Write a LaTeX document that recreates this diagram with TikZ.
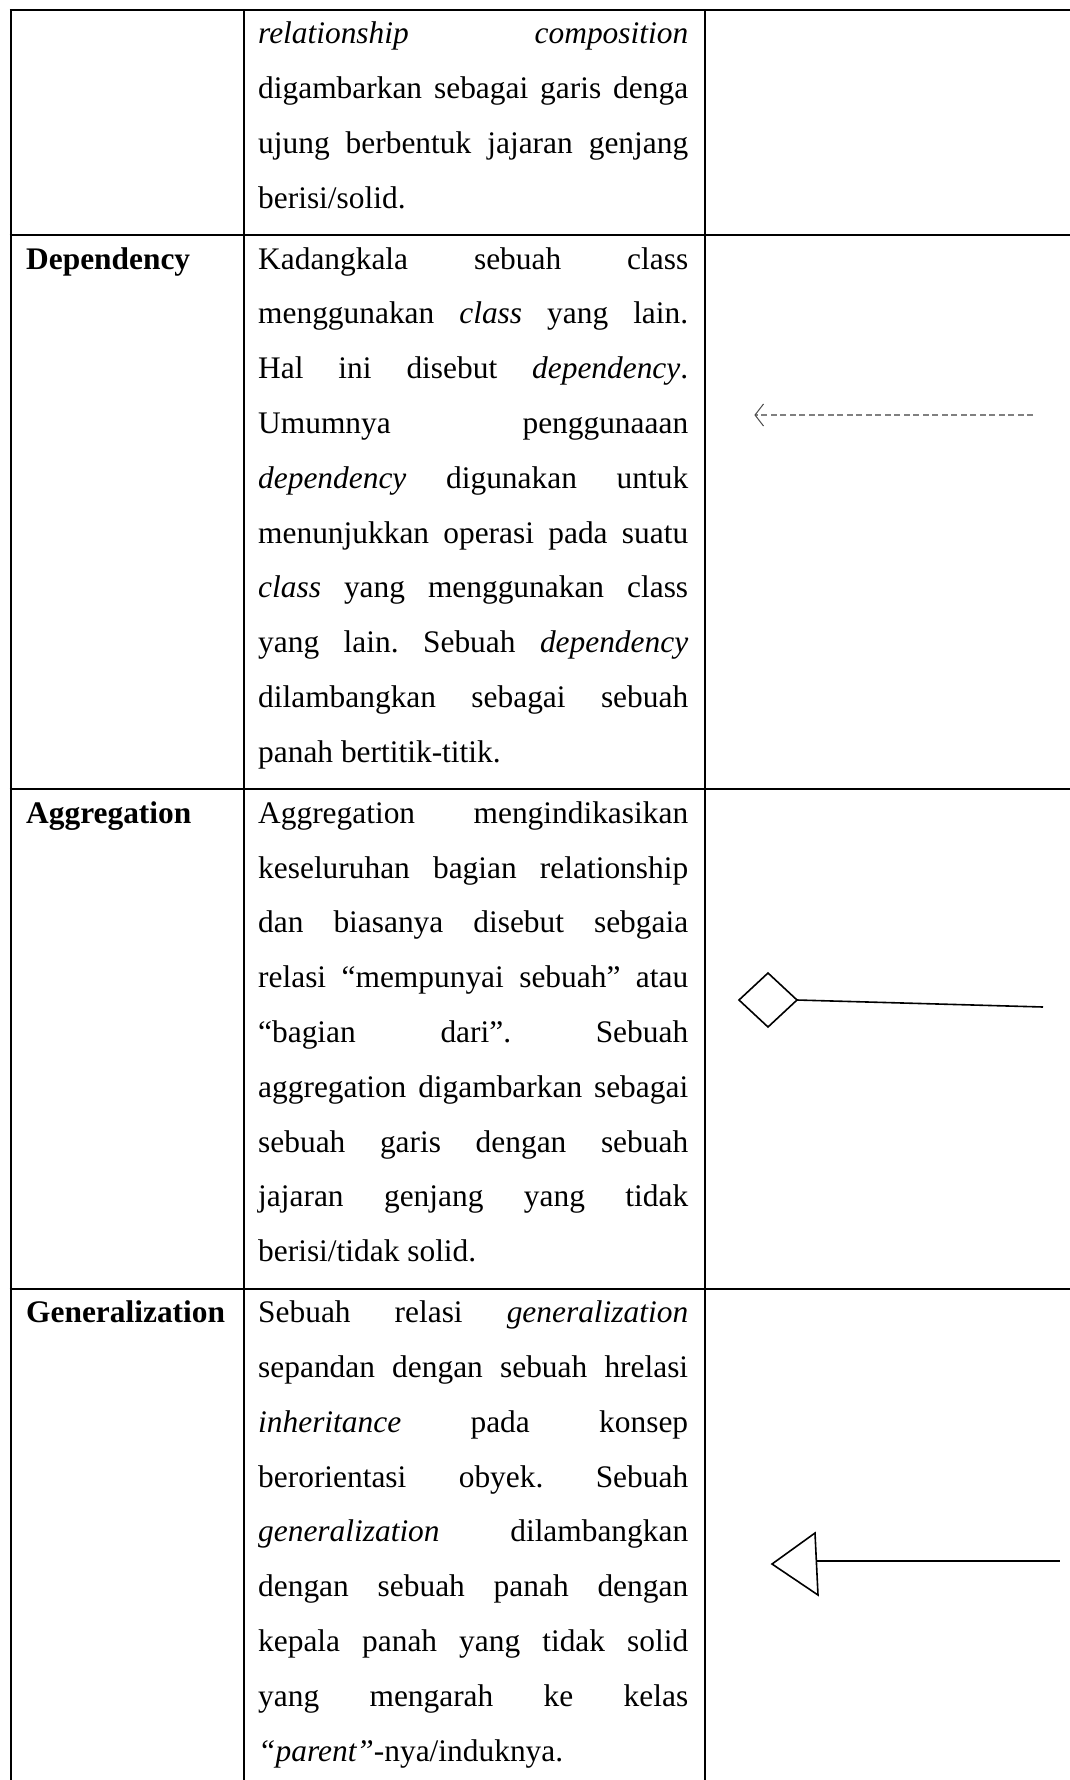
\documentclass[tikz,border=0pt]{standalone}
\usepackage{fontspec}
\setmainfont{Liberation Serif}
\newlength{\tw}\setlength{\tw}{430pt}
\newcommand{\JL}[1]{\makebox[\tw][s]{#1}}
\definecolor{dashgray}{HTML}{808080}
\definecolor{headgray}{HTML}{4A4A4A}
\frenchspacing
\begin{document}
\begin{tikzpicture}[x=1pt,y=-1pt,
  grid/.style={line width=2pt, black},
  txt/.style={anchor=base west, inner sep=0pt, font=\fontsize{31.4pt}{38pt}\selectfont\frenchspacing},
  lbl/.style={anchor=base west, inner sep=0pt, font=\fontsize{31.4pt}{38pt}\selectfont\bfseries},
  depline/.style={draw=dashgray, line width=1.3pt, dash pattern=on 6pt off 3.5pt},
  dephead/.style={draw=headgray, line width=1pt},
  sym/.style={draw=black, line width=1.6pt, line join=miter}
]
\useasboundingbox (0,0) rectangle (1070,1780);
\fill[white] (0,0) rectangle (1070,1780);
\def\p{54.8}
\def\ra{43.6}
\def\rb{269}
\pgfmathsetmacro\rc{\rb+9*\p+27+34}
\pgfmathsetmacro\rd{\rc+8*\p+27+34}
\pgfmathsetmacro\Ra{\ra-34}
\def\Rone{235}
\pgfmathsetmacro\Rb{\rb+9*\p+27}
\pgfmathsetmacro\Rc{\rc+8*\p+27}

% table rules
\draw[grid] (10.5,\Ra) -- (10.5,1780);
\draw[grid] (243.5,\Ra) -- (243.5,1780);
\draw[grid] (705,\Ra) -- (705,1780);
\draw[grid] (9.5,\Ra) -- (1070,\Ra);
\draw[grid] (9.5,\Rone) -- (1070,\Rone);
\draw[grid] (9.5,\Rb) -- (1070,\Rb);
\draw[grid] (9.5,\Rc) -- (1070,\Rc);

% row 1
\node[txt] (a1) at (258,{\ra+0*\p}) {\JL{\textit{relationship} \textit{composition}}};
\node[txt] (a2) at (258,{\ra+1*\p}) {\JL{digambarkan sebagai garis denga}};
\node[txt] (a3) at (258,{\ra+2*\p}) {\JL{ujung berbentuk jajaran genjang}};
\node[txt] (a4) at (258,{\ra+3*\p}) {berisi/solid.};

% row 2
\node[lbl] (depl) at (26,\rb) {Dependency};
\node[txt] (b1) at (258,{\rb+0*\p}) {\JL{Kadangkala sebuah class}};
\node[txt] (b2) at (258,{\rb+1*\p}) {\JL{menggunakan \textit{class} yang lain.}};
\node[txt] (b3) at (258,{\rb+2*\p}) {\JL{Hal ini disebut \textit{dependency}.}};
\node[txt] (b4) at (258,{\rb+3*\p}) {\JL{Umumnya penggunaaan}};
\node[txt] (b5) at (258,{\rb+4*\p}) {\JL{\textit{dependency} digunakan untuk}};
\node[txt] (b6) at (258,{\rb+5*\p}) {\JL{menunjukkan operasi pada suatu}};
\node[txt] (b7) at (258,{\rb+6*\p}) {\JL{\textit{class} yang menggunakan class}};
\node[txt] (b8) at (258,{\rb+7*\p}) {\JL{yang lain. Sebuah \textit{dependency}}};
\node[txt] (b9) at (258,{\rb+8*\p}) {\JL{dilambangkan sebagai sebuah}};
\node[txt] (b10) at (258,{\rb+9*\p}) {panah bertitik-titik.};

% row 3
\node[lbl] (aggl) at (26,\rc) {Aggregation};
\node[txt] (c1) at (258,{\rc+0*\p}) {\JL{Aggregation mengindikasikan}};
\node[txt] (c2) at (258,{\rc+1*\p}) {\JL{keseluruhan bagian relationship}};
\node[txt] (c3) at (258,{\rc+2*\p}) {\JL{dan biasanya disebut sebgaia}};
\node[txt] (c4) at (258,{\rc+3*\p}) {\JL{relasi “mempunyai sebuah” atau}};
\node[txt] (c5) at (258,{\rc+4*\p}) {\JL{“bagian dari”. Sebuah}};
\node[txt] (c6) at (258,{\rc+5*\p}) {\JL{aggregation digambarkan sebagai}};
\node[txt] (c7) at (258,{\rc+6*\p}) {\JL{sebuah garis dengan sebuah}};
\node[txt] (c8) at (258,{\rc+7*\p}) {\JL{jajaran genjang yang tidak}};
\node[txt] (c9) at (258,{\rc+8*\p}) {berisi/tidak solid.};

% row 4
\node[lbl] (genl) at (26,\rd) {Generalization};
\node[txt] (d1) at (258,{\rd+0*\p}) {\JL{Sebuah relasi \textit{generalization}}};
\node[txt] (d2) at (258,{\rd+1*\p}) {\JL{sepandan dengan sebuah hrelasi}};
\node[txt] (d3) at (258,{\rd+2*\p}) {\JL{\textit{inheritance} pada konsep}};
\node[txt] (d4) at (258,{\rd+3*\p}) {\JL{berorientasi obyek. Sebuah}};
\node[txt] (d5) at (258,{\rd+4*\p}) {\JL{\textit{generalization} dilambangkan}};
\node[txt] (d6) at (258,{\rd+5*\p}) {\JL{dengan sebuah panah dengan}};
\node[txt] (d7) at (258,{\rd+6*\p}) {\JL{kepala panah yang tidak solid}};
\node[txt] (d8) at (258,{\rd+7*\p}) {\JL{yang mengarah ke kelas}};
\node[txt] (d9) at (258,{\rd+8*\p}) {\textit{“parent”}-nya/induknya.};

% dependency symbol
\coordinate (depS) at (1033,415);
\coordinate (depT) at (755,415);
\coordinate (depU) at (763.5,404);
\coordinate (depL) at (763.5,426);
\draw[depline] (depS) -- (depT);
\draw[dephead] (depU) -- (depT) -- (depL);

% aggregation symbol
\coordinate (dW) at (739,1000);
\coordinate (dN) at (768,973);
\coordinate (dE) at (797,1000);
\coordinate (dS) at (768,1027);
\coordinate (aggEnd) at (1043,1007);
\draw[sym] (dE) -- (aggEnd);
\draw[sym, fill=white] (dW) -- (dN) -- (dE) -- (dS) -- cycle;

% generalization symbol
\coordinate (gT) at (772,1564);
\coordinate (gU) at (815,1533);
\coordinate (gL) at (818,1595);
\coordinate (gM) at (816.5,1561);
\coordinate (genEnd) at (1060,1561);
\draw[sym] (gM) -- (genEnd);
\draw[sym, fill=white] (gT) -- (gU) -- (gL) -- cycle;
\end{tikzpicture}
\end{document}
